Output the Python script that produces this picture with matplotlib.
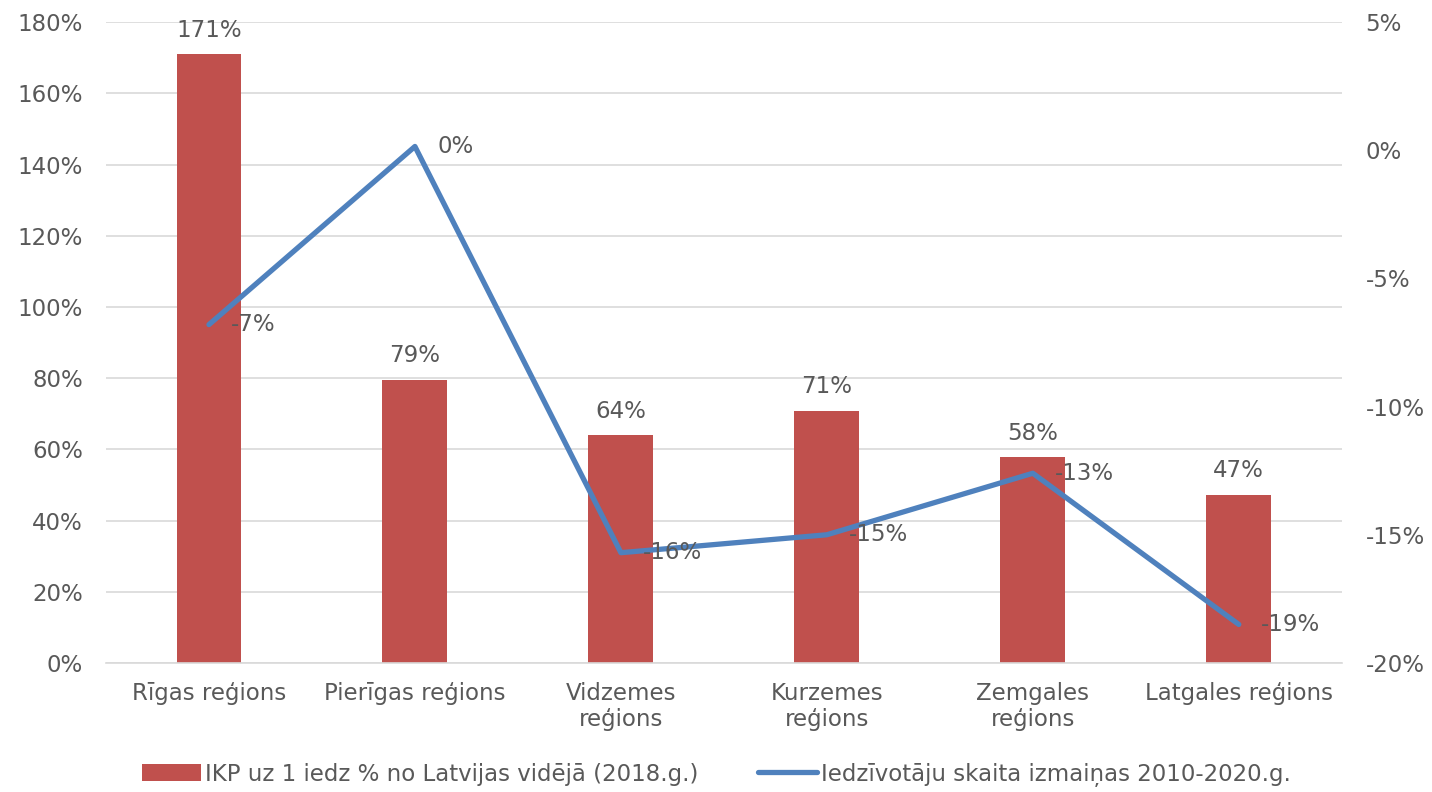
import matplotlib
matplotlib.use("Agg")
import matplotlib.pyplot as plt
import matplotlib.ticker as mticker
import numpy as np

categories = ["Rīgas reģions", "Pierīgas reģions", "Vidzemes\nreģions",
              "Kurzemes\nreģions", "Zemgales\nreģions", "Latgales reģions"]
gdp_pct = [171, 79.5, 64, 70.8, 57.8, 47.2]
gdp_labels = ["171%", "79%", "64%", "71%", "58%", "47%"]
pop_change = [-6.8, 0.15, -15.7, -15.0, -12.6, -18.5]
pop_labels = ["-7%", "0%", "-16%", "-15%", "-13%", "-19%"]
bar_name = "IKP uz 1 iedz % no Latvijas vidējā (2018.g.)"
line_name = "Iedzīvotāju skaita izmaiņas 2010-2020.g."

plt.rcParams['font.family'] = ['DejaVu Sans']
txt = "#595959"
fs = 16.5

fig = plt.figure(figsize=(14.32, 7.92), dpi=100)
ax = fig.add_axes([0.074, 0.163, 0.863, 0.809])
x = np.arange(len(categories))
bars = ax.bar(x, gdp_pct, width=0.315, color="#C0504D", zorder=2, label=bar_name)
ax.set_xlim(-0.5, len(categories) - 0.5)
ax.set_ylim(0, 180)
ax.set_yticks(np.arange(0, 181, 20))
ax.yaxis.set_major_formatter(mticker.FuncFormatter(lambda v, p: f"{v:.0f}%"))
ax.grid(axis="y", color="#D9D9D9", linewidth=1.2, zorder=0)
for s in ["top", "right", "left"]:
    ax.spines[s].set_visible(False)
ax.spines["bottom"].set_color("#D9D9D9")
ax.spines["bottom"].set_linewidth(1.2)
ax.tick_params(axis="both", length=0, labelsize=fs, colors=txt)
ax.tick_params(axis="y", pad=16.5)
ax.tick_params(axis="x", pad=14)
ax.set_xticks(x)
ax.set_xticklabels(categories, linespacing=1.15)
for xi, v, lab in zip(x, gdp_pct, gdp_labels):
    ax.annotate(lab, (xi, v), xytext=(0, 9), textcoords="offset points",
                ha="center", va="bottom", fontsize=fs, color=txt)

ax2 = ax.twinx()
ax2.set_ylim(-20, 5)
ax2.set_yticks(np.arange(-20, 6, 5))
ax2.yaxis.set_major_formatter(mticker.FuncFormatter(lambda v, p: f"{v:.0f}%"))
for s in ax2.spines.values():
    s.set_visible(False)
ax2.tick_params(axis="y", length=0, labelsize=fs, colors=txt, pad=17)
line, = ax2.plot(x, pop_change, color="#4F81BD", linewidth=3.8,
                 solid_capstyle="round", solid_joinstyle="round", zorder=3, label=line_name)
for xi, v, lab in zip(x, pop_change, pop_labels):
    ax2.annotate(lab, (xi, v), xytext=(16, 0), textcoords="offset points",
                 ha="left", va="center", fontsize=fs, color=txt)

fig.legend([bars, line], [bar_name, line_name], loc="center",
           bbox_to_anchor=(0.5, 0.022), ncol=2, frameon=False, fontsize=fs,
           labelcolor=txt, handlelength=2.6, handletextpad=0.15, columnspacing=2.6,
           handleheight=0.8)
fig.savefig("out.png", dpi=100)
